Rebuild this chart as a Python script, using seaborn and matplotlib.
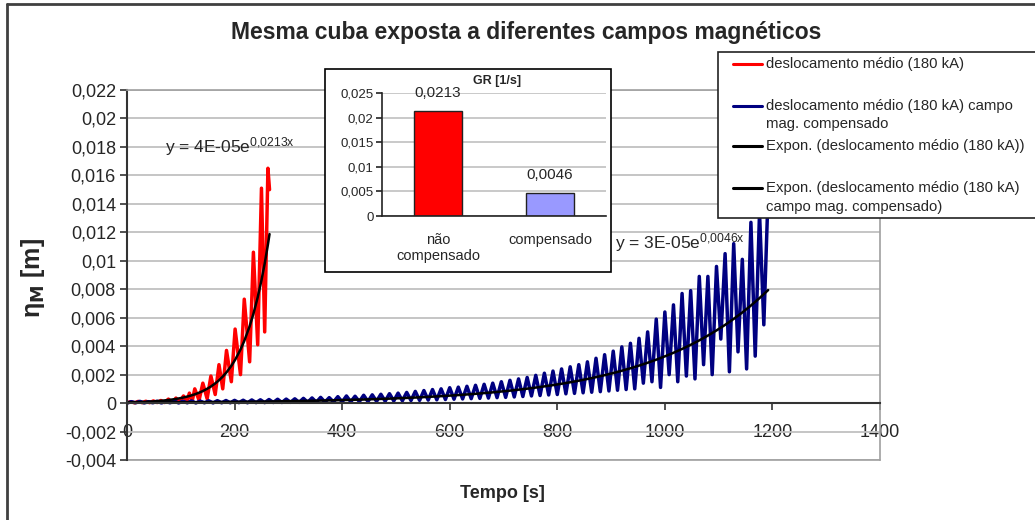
import numpy as np
import matplotlib
matplotlib.use("Agg")
import matplotlib.pyplot as plt
from matplotlib.lines import Line2D
from matplotlib.patches import Rectangle
from matplotlib.ticker import FuncFormatter, MultipleLocator
import seaborn as sns

# --- data ---
red_t = [0, 7, 14, 21, 28, 35, 42, 49, 56, 63, 70, 77, 84, 91, 98, 105, 111, 116, 121, 126,
         134, 141, 149, 156, 164, 171, 178, 185, 194, 201, 211, 218, 228, 235, 243, 250, 256, 262, 265]
red_y = [0.00002, 0.0001, 0.00002, 0.00012, 0.00003, 0.00013, 0.00003, 0.00015, 0.00004, 0.00018,
         0.00004, 0.00028, 0.00005, 0.00035, 0.00006, 0.0005, 0.00008, 0.0007, 0.0001, 0.001,
         0.0002, 0.0014, 0.0003, 0.0019, 0.0006, 0.0027, 0.001, 0.0037, 0.0015, 0.0052,
         0.002, 0.0073, 0.0029, 0.0106, 0.0041, 0.0151, 0.005, 0.0165, 0.015]

# compensated case: sampled every 8 s, troughs at 0,16,..,1184 and peaks at 8,24,..,1192
blue_step = 8
blue_trough = [0.0, 0.00002, 0.00001, 0.00002, 0.00001, 0.00002, 0.00001, 0.00002, 0.00001, 0.00002,
               0.00001, 0.00002, 0.00002, 0.00003, 0.00002, 0.00003, 0.00003, 0.00004, 0.00004, 0.00005,
               0.00005, 0.00006, 0.00006, 0.00007, 0.00008, 0.00008, 0.00009, 0.0001, 0.00011, 0.00012,
               0.00013, 0.00015, 0.00016, 0.00018, 0.00019, 0.00021, 0.00023, 0.00025, 0.00027, 0.00029,
               0.00031, 0.00033, 0.00035, 0.00038, 0.0004, 0.00043, 0.00046, 0.0005, 0.00053, 0.00057,
               0.0006, 0.00065, 0.00068, 0.00072, 0.00076, 0.0008, 0.00085, 0.0009, 0.00095, 0.001,
               0.0014, 0.0015, 0.0011, 0.002, 0.0015, 0.0019, 0.0017, 0.0027, 0.002, 0.0045,
               0.0022, 0.0036, 0.0024, 0.0033, 0.0055]
blue_peak = [0.0001, 0.00012, 0.0001, 0.00013, 0.00012, 0.00014, 0.00013, 0.00015, 0.00014, 0.00016,
             0.00017, 0.00018, 0.00019, 0.0002, 0.00022, 0.00023, 0.00025, 0.00027, 0.00028, 0.0003,
             0.00033, 0.00036, 0.0004, 0.00038, 0.00045, 0.0005, 0.00048, 0.00055, 0.00058, 0.00062,
             0.00066, 0.0007, 0.00075, 0.00082, 0.00088, 0.00095, 0.001, 0.00108, 0.00112, 0.00118,
             0.00125, 0.00132, 0.0014, 0.0015, 0.0016, 0.0017, 0.0018, 0.00195, 0.0021, 0.00225,
             0.0024, 0.00255, 0.0027, 0.0029, 0.00315, 0.0034, 0.00365, 0.00395, 0.0042, 0.00455,
             0.005, 0.0059, 0.0064, 0.0069, 0.0077, 0.0079, 0.0089, 0.0089, 0.0096, 0.0105,
             0.0112, 0.0101, 0.0127, 0.0134, 0.0148]

# exponential trend lines as labelled in the chart (A, b)
red_fit = [4.2e-5, 0.0213]
blue_fit = [3.3e-5, 0.0046]
red_eq = "y = 4E-05e$^{0{,}0213x}$"
blue_eq = "y = 3E-05e$^{0{,}0046x}$"

gr_labels = ["não\ncompensado", "compensado"]
gr_values = [0.0213, 0.0046]
gr_text = ["0,0213", "0,0046"]

legend_labels = [
    ["deslocamento médio (180 kA)"],
    ["deslocamento médio (180 kA) campo", "mag. compensado"],
    ["Expon. (deslocamento médio (180 kA))"],
    ["Expon. (deslocamento médio (180 kA)", "campo mag. compensado)"],
]

RED, NAVY, GRID = "#FF0000", "#000080", "#C0C0C0"

sns.set_style("white")
plt.rcParams["font.family"] = ["Liberation Sans", "DejaVu Sans"]
plt.rcParams["mathtext.fontset"] = "custom"
plt.rcParams["mathtext.rm"] = "Liberation Sans"
plt.rcParams["mathtext.it"] = "Liberation Sans"
plt.rcParams["mathtext.default"] = "regular"

W, H = 1035, 520
fig = plt.figure(figsize=(W / 100, H / 100), dpi=100)


def fx(px):
    return px / W


def fy(py):
    return 1 - py / H


def comma(v, pos=None):
    if abs(v) < 1e-12:
        return "0"
    s = f"{v:.3f}".rstrip("0").rstrip(".")
    return s.replace(".", ",")


# --- main axes ---
ax = fig.add_axes([fx(127), fy(460), (880 - 127) / W, (460 - 90) / H])
red_t_arr = np.array(red_t)
blue_t = np.arange(0, len(blue_trough) * 2 * blue_step, blue_step)
blue_y = np.column_stack([blue_trough, blue_peak]).ravel()

sns.lineplot(x=red_t, y=red_y, color=RED, lw=2.5, estimator=None, sort=False, ax=ax)
sns.lineplot(x=blue_t, y=blue_y, color=NAVY, lw=2.5, estimator=None, sort=False, ax=ax)
sns.lineplot(x=red_t_arr, y=red_fit[0] * np.exp(red_fit[1] * red_t_arr),
             color="black", lw=1.8, estimator=None, sort=False, ax=ax)
sns.lineplot(x=blue_t, y=blue_fit[0] * np.exp(blue_fit[1] * blue_t),
             color="black", lw=1.8, estimator=None, sort=False, ax=ax)

ax.set_xlim(0, 1400)
ax.set_ylim(-0.004, 0.022)
ax.xaxis.set_major_locator(MultipleLocator(200))
ax.yaxis.set_major_locator(MultipleLocator(0.002))
ax.yaxis.set_major_formatter(FuncFormatter(comma))
ax.set_xlabel("")
ax.set_ylabel("")
ax.set_axisbelow(True)
ax.yaxis.grid(True, color=GRID, lw=1.3)
ax.xaxis.grid(False)
ax.spines["bottom"].set_position(("data", 0))
ax.spines["bottom"].set_color("#333333")
ax.spines["bottom"].set_linewidth(1.5)
ax.spines["left"].set_color("#333333")
ax.spines["left"].set_linewidth(1.5)
for s in ["top", "right"]:
    ax.spines[s].set_color("#A0A0A0")
    ax.spines[s].set_linewidth(1.2)
ax.plot([0, 1], [0, 0], transform=ax.transAxes, color="#A0A0A0", lw=1.2, clip_on=False)
ax.tick_params(axis="x", direction="out", length=5, width=1.2, color="#333333",
               labelsize=13, pad=10, bottom=True)
ax.tick_params(axis="y", direction="out", length=5, width=1.2, color="#333333",
               labelsize=13, pad=3, left=True)

fig.text(fx(165), fy(147), red_eq, fontsize=12.5, ha="left", va="center")
fig.text(fx(615), fy(243), blue_eq, fontsize=12.5, ha="left", va="center")

# --- inset bar chart ---
fig.add_artist(Rectangle((fx(325), fy(272)), (611 - 325) / W, (272 - 69) / H,
                         transform=fig.transFigure, facecolor="white", edgecolor="black",
                         lw=1.2, zorder=2))
ax2 = fig.add_axes([fx(382), fy(216), (606 - 382) / W, (216 - 93) / H], zorder=3)
sns.barplot(x=gr_labels, y=gr_values, hue=gr_labels, palette=[RED, "#9999FF"], legend=False,
            width=0.42, saturation=1, edgecolor="#222222", linewidth=1.0, ax=ax2)
ax2.set_xlim(-0.5, 1.5)
ax2.set_ylim(0, 0.025)
ax2.yaxis.set_major_locator(MultipleLocator(0.005))
ax2.yaxis.set_major_formatter(FuncFormatter(comma))
ax2.set_axisbelow(True)
ax2.yaxis.grid(True, color=GRID, lw=1.2)
for s in ["top", "right"]:
    ax2.spines[s].set_visible(False)
for s in ["left", "bottom"]:
    ax2.spines[s].set_color("#222222")
    ax2.spines[s].set_linewidth(1.2)
ax2.set_xticks([-0.5, 0.5, 1.5], minor=True)
ax2.tick_params(axis="x", which="major", length=0, labelsize=10.5, pad=12)
ax2.tick_params(axis="x", which="minor", direction="out", length=5, width=1.2, color="#222222")
ax2.tick_params(axis="y", direction="out", length=4, width=1.2, color="#222222",
                labelsize=9.5, pad=2, left=True)
for c in ax2.containers:
    ax2.bar_label(c, labels=[gr_text[int(round(p.get_x() + p.get_width() / 2))] for p in c],
                  padding=8, fontsize=11)
fig.text(fx(497), fy(81), "GR [1/s]", fontsize=9, fontweight="bold", ha="center", va="center", zorder=4)

# --- legend box ---
fig.add_artist(Rectangle((fx(718), fy(218)), (1045 - 718) / W, (218 - 52) / H,
                         transform=fig.transFigure, facecolor="white", edgecolor="#222222",
                         lw=1.2, zorder=2))
leg_colors = [RED, NAVY, "black", "black"]
leg_rows = [[64], [106, 124], [146], [188, 207]]
for col, rows, labels in zip(leg_colors, leg_rows, legend_labels):
    fig.add_artist(Line2D([fx(733), fx(762)], [fy(rows[0]), fy(rows[0])], color=col, lw=2.2,
                          transform=fig.transFigure, zorder=3))
    for r, lab in zip(rows, labels):
        fig.text(fx(766), fy(r), lab, fontsize=10.7, ha="left", va="center", zorder=4)

# --- titles, labels, outer frame ---
fig.text(fx(526), fy(33), "Mesma cuba exposta a diferentes campos magnéticos",
         fontsize=16.5, fontweight="bold", ha="center", va="center")
fig.text(fx(502), fy(493), "Tempo [s]", fontsize=13, fontweight="bold", ha="center", va="center")
fig.text(fx(33), fy(278), "η$_{\\mathbf{M}}$ [m]", fontsize=18, fontweight="bold",
         rotation=90, ha="center", va="center")
fig.add_artist(Line2D([fx(7), 1], [fy(4), fy(4)], color="#404040", lw=2, transform=fig.transFigure))
fig.add_artist(Line2D([fx(7), fx(7)], [0, fy(4)], color="#404040", lw=2, transform=fig.transFigure))

fig.savefig("out.png", dpi=100)
